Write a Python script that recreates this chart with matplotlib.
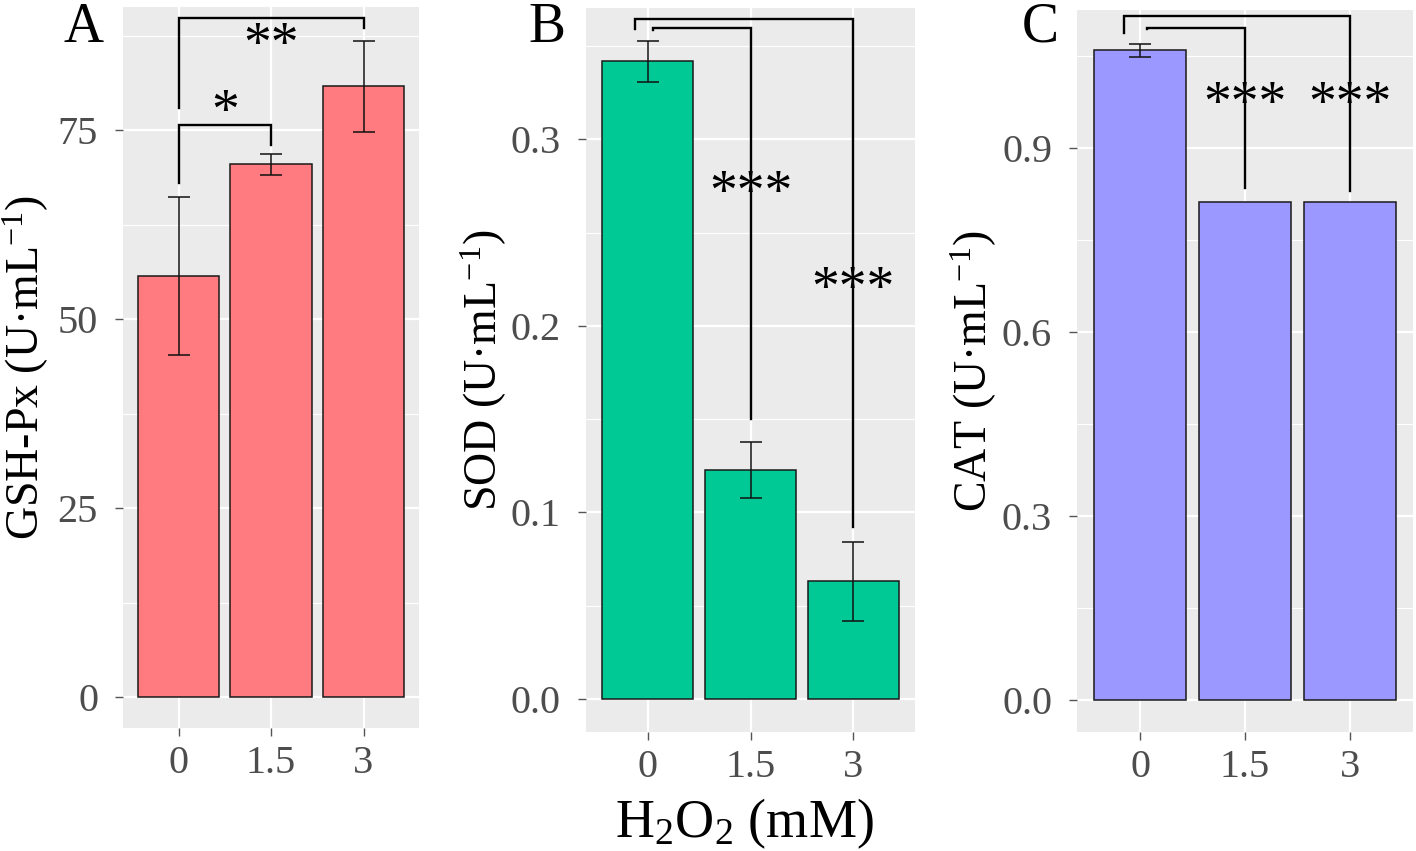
import matplotlib
matplotlib.use("Agg")
import matplotlib.pyplot as plt
from matplotlib.ticker import MultipleLocator

plt.rcParams['font.family'] = ['Liberation Serif', 'DejaVu Serif']
plt.rcParams['mathtext.fontset'] = 'custom'
plt.rcParams['mathtext.rm'] = 'Liberation Serif'
plt.rcParams['mathtext.it'] = 'Liberation Serif:italic'

# ---- data ----
categories = ["0", "1.5", "3"]

gsh_mean = [55.7, 70.5, 80.8]
gsh_err = [10.5, 1.4, 6.0]

sod_mean = [0.342, 0.123, 0.063]
sod_err = [0.011, 0.015, 0.021]

cat_mean = [1.059, 0.812, 0.812]
cat_err = [0.011, 0.0, 0.0]

panel_letters = ["A", "B", "C"]
ylabels = [r"GSH-Px (U·mL$^{\mathrm{-1}}$)", r"SOD (U·mL$^{\mathrm{-1}}$)",
           r"CAT (U·mL$^{\mathrm{-1}}$)"]
xlabel = r"H$_2$O$_2$ (mM)"
colors = ["#FF7B7F", "#00C995", "#9B99FF"]

yticks_A = [0, 25, 50, 75]
yticklabels_A = ["0", "25", "50", "75"]
yticks_B = [0.0, 0.1, 0.2, 0.3]
yticklabels_B = ["0.0", "0.1", "0.2", "0.3"]
yticks_C = [0.0, 0.3, 0.6, 0.9]
yticklabels_C = ["0.0", "0.3", "0.6", "0.9"]

# significance brackets: (x_left, x_right, y_top, y_left_end, y_right_end)
brackets_A = [(0, 1, 75.7, 68.0, 73.0), (0, 2, 89.8, 77.9, 88.5)]
brackets_B = [(-0.12, 2, 0.3646, 0.359, 0.092), (0.05, 1, 0.360, 0.3585, 0.150)]
brackets_C = [(-0.15, 2, 1.116, 1.088, 0.830), (0.07, 1, 1.096, 1.094, 0.835)]
stars_A = [("*", 0.5, 78.4), ("**", 1.0, 87.3)]
stars_B = [("***", 1.0, 0.275), ("***", 2.0, 0.224)]
stars_C = [("***", 1.0, 0.983), ("***", 2.0, 0.983)]

ylims = [(-4.1, 91.3), (-0.0177, 0.3705), (-0.052, 1.125)]

W, H = 1416, 851
fig = plt.figure(figsize=(W / 100, H / 100), dpi=100)
fig.patch.set_facecolor("white")

rects = [(123, 7, 419, 728), (586, 8, 915, 732), (1077, 10, 1413, 732)]
ylabel_x = [26, 484, 974]
letter_x = [83, 547, 1040]

panels = [
    (gsh_mean, gsh_err, yticks_A, yticklabels_A, brackets_A, stars_A),
    (sod_mean, sod_err, yticks_B, yticklabels_B, brackets_B, stars_B),
    (cat_mean, cat_err, yticks_C, yticklabels_C, brackets_C, stars_C),
]

STAR_FS = 40
xs = list(range(len(categories)))
for i, (means, errs, yt, ytl, brs, sts) in enumerate(panels):
    x0, y0, x1, y1 = rects[i]
    ax = fig.add_axes([x0 / W, (H - y1) / H, (x1 - x0) / W, (y1 - y0) / H])
    ax.set_facecolor("#EBEBEB")
    for s in ax.spines.values():
        s.set_visible(False)
    ax.set_xlim(-0.6, 2.6)
    ax.set_ylim(*ylims[i])
    ax.set_yticks(yt)
    ax.set_yticklabels(ytl)
    step = yt[1] - yt[0]
    ax.yaxis.set_minor_locator(MultipleLocator(step / 2))
    ax.set_xticks(xs)
    ax.set_xticklabels(categories)
    ax.grid(True, which="major", color="white", linewidth=1.6)
    ax.grid(True, which="minor", axis="y", color="white", linewidth=0.8)
    ax.set_axisbelow(True)
    ax.tick_params(axis="both", which="major", length=6, width=1.0, color="#555555",
                   labelcolor="#4D4D4D", labelsize=29)
    ax.tick_params(axis="x", which="major", pad=6)
    ax.tick_params(axis="y", which="major", pad=12)
    ax.tick_params(axis="both", which="minor", length=0)
    ax.bar(xs, means, width=0.88, color=colors[i], edgecolor="#1a1a1a", linewidth=1.1, zorder=2)
    ex = [x for x, e in zip(xs, errs) if e > 0]
    em = [m for m, e in zip(means, errs) if e > 0]
    ee = [e for e in errs if e > 0]
    ax.errorbar(ex, em, yerr=ee, fmt="none", ecolor="#111111", elinewidth=1.1,
                capsize=8, capthick=1.1, zorder=3)
    for (xl, xr, yt_, yl, yr) in brs:
        ax.plot([xl, xl, xr, xr], [yl, yt_, yt_, yr], color="black", linewidth=1.7,
                solid_joinstyle="miter", zorder=4)
    for (txt, tx, ty) in sts:
        ax.annotate(txt, (tx, ty), xytext=(0, -0.42 * STAR_FS), textcoords="offset points",
                    ha="center", va="baseline", fontsize=STAR_FS, color="black", zorder=5)
    fig.text(ylabel_x[i] / W, 1 - ((y0 + y1) / 2) / H, ylabels[i], fontsize=33,
             rotation=90, ha="center", va="center", rotation_mode="anchor")
    fig.text(letter_x[i] / W, 1 - 42 / H, panel_letters[i], fontsize=40,
             ha="center", va="baseline")

fig.text(744 / W, 1 - 837 / H, xlabel, fontsize=39, ha="center", va="baseline")

fig.savefig("out.png", dpi=100)
